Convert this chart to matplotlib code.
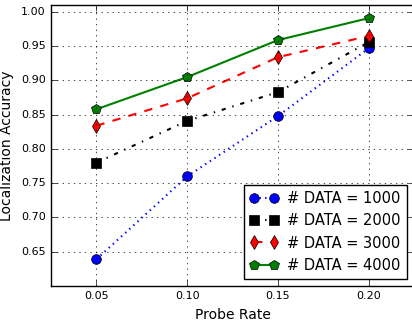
import matplotlib
matplotlib.use('Agg')
import matplotlib.pyplot as plt

plt.style.use('classic')

# taux de sondage et précision pour chaque taille de jeu de données
probe_rate = [0.05, 0.10, 0.15, 0.20]
acc_1000 = [0.639, 0.760, 0.848, 0.947]
acc_2000 = [0.780, 0.841, 0.883, 0.956]
acc_3000 = [0.834, 0.874, 0.934, 0.965]
acc_4000 = [0.858, 0.905, 0.959, 0.991]
labels = ['# DATA = 1000', '# DATA = 2000', '# DATA = 3000', '# DATA = 4000']

fig = plt.figure(figsize=(4.12, 3.22), dpi=100)
ax = fig.add_axes([0.124, 0.112, 0.881, 0.872])

ax.plot(probe_rate, acc_1000, 'bo:', markersize=7, linewidth=1.5, label=labels[0])
ax.plot(probe_rate, acc_2000, 'ks-.', markersize=7, linewidth=1.5, label=labels[1])
ax.plot(probe_rate, acc_3000, 'rd--', markersize=7, linewidth=1.5, label=labels[2])
ax.plot(probe_rate, acc_4000, 'gp-', markersize=7, linewidth=1.5, label=labels[3])

ax.set_xlim(0.025, 0.225)
ax.set_ylim(0.60, 1.01)
ax.set_xticks(probe_rate)
ax.set_yticks([0.65, 0.70, 0.75, 0.80, 0.85, 0.90, 0.95, 1.00])
ax.tick_params(labelsize=8)
ax.grid(True)

ax.set_xlabel('Probe Rate', fontsize=10)
ax.set_ylabel('Localization Accuracy', fontsize=10)

ax.legend(loc='lower right', numpoints=2, fontsize=10.5, handlelength=2.0,
          handletextpad=0.6)

fig.savefig('out.png', dpi=100)
